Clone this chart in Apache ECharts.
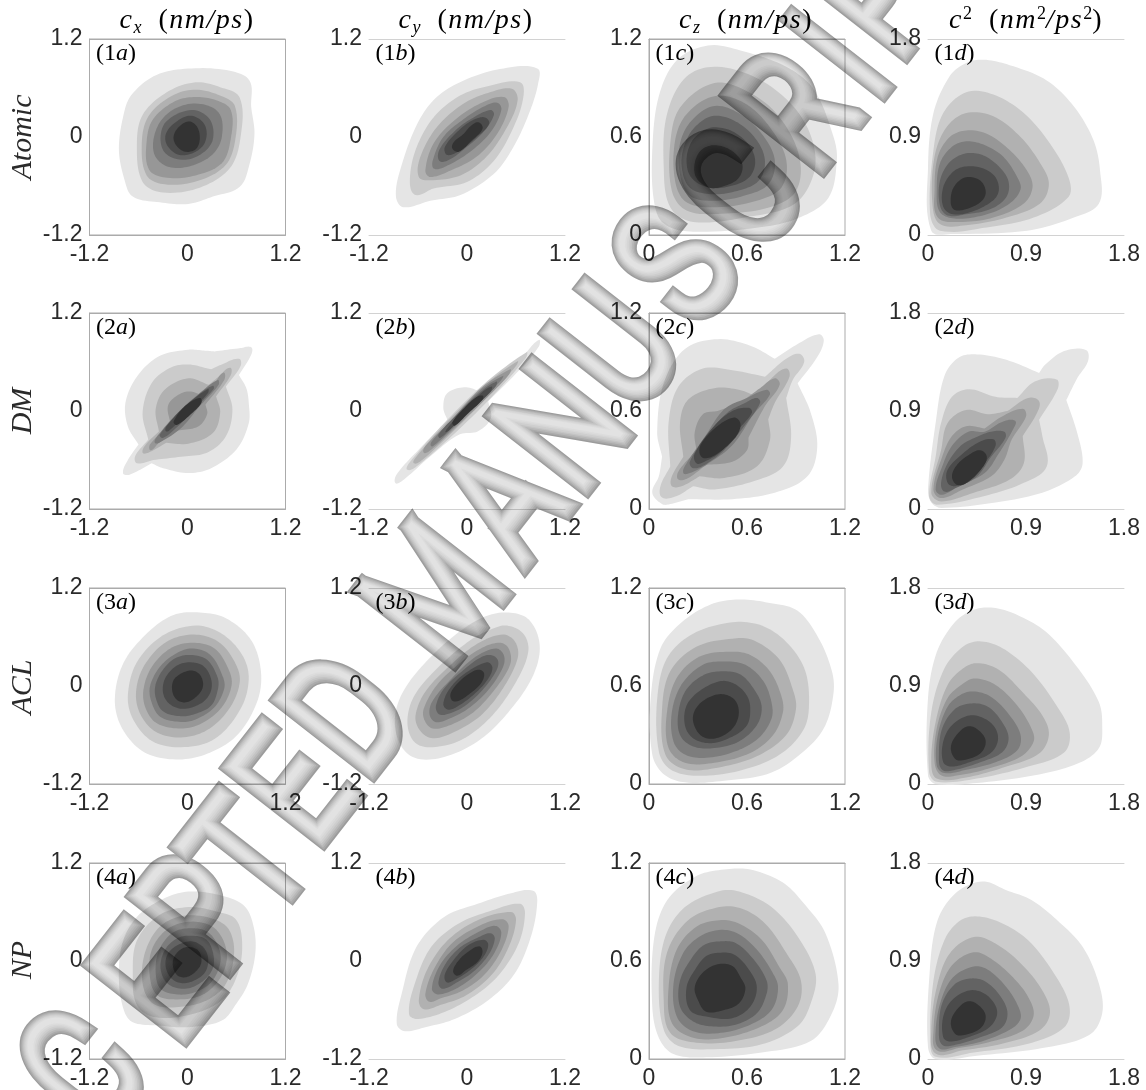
<!DOCTYPE html>
<html><head><meta charset="utf-8">
<style>
html,body{margin:0;padding:0;background:#fff;overflow:hidden}
#chart{width:1146px;height:1090px;background:#fff}
#chart canvas + canvas{mix-blend-mode:multiply}
</style>
<script src="https://cdn.jsdelivr.net/npm/echarts@6/dist/echarts.min.js"></script>
</head><body><div id="chart"></div>
<script>
// Contour polygons: each panel is a list of 8 filled levels, outermost first, as flat x,y,x,y,... values.
// A point written twice is a sharp notch in the contour.
const p1a=[
[.05,.84,.52,.81,.76,.69,.78,.37,.82,.04,.76,-.33,.64,-.61,.31,-.73,.01,-.82,-.34,-.8,-.67,-.73,-.77,-.53,-.84,-.16,-.79,.24,-.69,.51,-.38,.76],
[.1,.67,.4,.61,.64,.48,.65,0,.52,-.38,.15,-.62,-.3,-.68,-.55,-.55,-.62,-.1,-.55,.27,-.25,.55],
[.1,.58,.42,.5,.58,.38,.59,0,.47,-.34,.12,-.54,-.28,-.58,-.5,-.47,-.56,-.08,-.48,.25,-.2,.5],
[.1,.49,.35,.45,.53,.33,.53,-.02,.42,-.32,.1,-.47,-.25,-.5,-.47,-.4,-.5,-.05,-.42,.22,-.15,.44],
[.1,.41,.38,.3,.42,0,.3,-.22,.02,-.36,-.25,-.36,-.41,-.2,-.38,.1,-.2,.32],
[.05,.33,.27,.22,.31,-.03,.18,-.2,-.05,-.28,-.27,-.2,-.33,0,-.25,.2],
[.05,.26,.21,.15,.22,-.05,.1,-.18,-.1,-.22,-.25,-.1,-.26,.05,-.12,.2],
[.02,.19,.12,.12,.15,-.03,.1,-.15,-.03,-.18,-.14,-.1,-.17,.01,-.1,.13]];
const p1b=[
[.86,.84,.87,.65,.76,.29,.57,-.12,.33,-.45,-.08,-.71,-.45,-.78,-.78,-.86,-.87,-.73,-.82,-.41,-.61,.16,-.37,.49,0,.71,.45,.84],
[.65,.67,.69,.49,.57,.12,.33,-.29,0,-.55,-.41,-.63,-.63,-.71,-.7,-.55,-.63,-.16,-.41,.24,-.08,.51,.29,.63],
[.55,.59,.62,.45,.49,.12,.24,-.24,-.08,-.47,-.45,-.53,-.59,-.49,-.57,-.24,-.37,.12,-.04,.41,.29,.55],
[.45,.49,.51,.37,.37,.04,.12,-.24,-.2,-.41,-.45,-.49,-.51,-.41,-.41,-.08,-.16,.2,.16,.41],
[.37,.42,.42,.33,.29,.06,.04,-.18,-.24,-.35,-.4,-.39,-.42,-.29,-.29,0,-.04,.22,.2,.37],
[.29,.33,.33,.27,.2,.06,0,-.12,-.22,-.28,-.34,-.29,-.33,-.14,-.12,.1,.08,.24],
[.22,.24,.27,.16,.12,0,-.08,-.16,-.24,-.22,-.27,-.12,-.08,.1,.08,.21],
[.14,.18,.19,.1,.06,-.04,-.1,-.18,-.18,-.14,-.16,-.06,-.04,.04,.04,.13]];
const p1c=[
[.36,1.16,.56,1.13,.84,1.03,1.01,.89,1.13,.6,1.15,.46,1.1,.23,.93,.11,.7,.05,.27,.02,.09,.07,.03,.21,.02,.52,.06,.85,.17,1.07],
[.42,1.03,.68,.95,.89,.78,1,.58,1.01,.38,.89,.19,.6,.11,.27,.08,.13,.17,.09,.42,.11,.74,.23,.97],
[.4,.93,.62,.87,.8,.72,.92,.48,.9,.27,.74,.17,.44,.13,.23,.15,.14,.27,.13,.56,.19,.78],
[.4,.85,.58,.81,.74,.66,.84,.46,.81,.29,.66,.21,.42,.17,.23,.2,.16,.33,.16,.58,.23,.74],
[.4,.79,.56,.74,.69,.62,.77,.46,.73,.31,.58,.24,.4,.21,.25,.24,.19,.37,.19,.56,.26,.7],
[.4,.73,.54,.69,.66,.58,.71,.45,.67,.33,.54,.27,.38,.25,.25,.29,.2,.42,.22,.56,.29,.67],
[.4,.66,.52,.63,.62,.54,.65,.44,.61,.35,.5,.3,.37,.29,.26,.35,.23,.46,.26,.57,.32,.63],
[.4,.55,.5,.52,.57,.44,.55,.35,.46,.3,.37,.29,.29,.35,.28,.44,.32,.52]];
const p1d=[
[.51,1.61,.75,1.56,1.09,1.42,1.34,1.18,1.52,.87,1.58,.59,1.57,.29,1.34,.16,.91,.04,.23,.01,.03,.04,0,.62,.05,1.12,.2,1.46,.35,1.58],
[.35,1.31,.6,1.29,.88,1.12,1.12,.84,1.29,.53,1.29,.35,.97,.16,.54,.07,.11,.04,.02,.19,.05,.78,.14,1.12],
[.35,1.12,.6,1.09,.85,.9,1.03,.66,1.11,.47,1.03,.29,.72,.16,.35,.09,.11,.1,.04,.29,.06,.72,.17,.99],
[.35,.96,.54,.93,.75,.78,.91,.59,.96,.44,.88,.29,.6,.16,.29,.12,.09,.16,.06,.41,.09,.72,.2,.9],
[.35,.86,.51,.83,.69,.72,.82,.53,.85,.42,.75,.29,.54,.19,.26,.15,.11,.21,.08,.41,.11,.66,.22,.81],
[.35,.75,.51,.73,.66,.62,.74,.49,.72,.35,.58,.24,.35,.19,.18,.18,.11,.27,.11,.5,.2,.67],
[.35,.63,.51,.61,.62,.53,.65,.41,.6,.32,.42,.22,.23,.19,.14,.26,.14,.44,.23,.58],
[.35,.53,.48,.5,.53,.39,.48,.3,.32,.23,.23,.24,.21,.35,.25,.46]];
const p2a=[
[.01,.75,.2,.74,.33,.73,.33,.73,.65,.77,.78,.78,.78,.69,.63,.44,.63,.44,.72,.28,.75,.1,.75,-.15,.6,-.47,.29,-.7,.01,-.76,-.3,-.7,-.44,-.64,-.44,-.64,-.71,-.78,-.79,-.76,-.73,-.6,-.6,-.41,-.6,-.41,-.73,-.19,-.76,.1,-.62,.42,-.35,.67],
[.01,.57,.29,.51,.29,.51,.42,.57,.63,.64,.65,.55,.47,.3,.47,.3,.55,.02,.47,-.31,.24,-.51,-.08,-.56,-.42,-.6,-.42,-.6,-.62,-.64,-.64,-.55,-.48,-.35,-.48,-.35,-.55,-.02,-.44,.34,-.21,.53],
[.01,.4,.26,.32,.26,.32,.38,.42,.52,.53,.53,.44,.35,.18,.35,.18,.4,-.02,.31,-.27,.01,-.4,-.26,-.39,-.26,-.39,-.48,-.51,-.55,-.51,-.51,-.41,-.35,-.25,-.35,-.25,-.39,.02,-.28,.26],
[.01,.24,.17,.2,.17,.2,.33,.34,.44,.47,.45,.38,.22,.08,.22,.08,.24,-.04,.13,-.19,-.12,-.24,-.12,-.24,-.35,-.39,-.45,-.48,-.46,-.41,-.21,-.15,-.21,-.15,-.24,.06,-.14,.18],
[.37,.38,.38,.32,.15,.06,-.08,-.21,-.33,-.38,-.4,-.39,-.37,-.31,-.12,-.02,.15,.22],
[.31,.31,.32,.27,.1,.04,-.12,-.19,-.3,-.33,-.34,-.29,-.08,0,.16,.22],
[.25,.27,.25,.22,.06,.02,-.19,-.21,-.26,-.25,-.26,-.19,-.03,.06],
[.15,.16,.17,.1,.04,-.04,-.13,-.17,-.17,-.13,-.03,.06]];
const p2b=[
[.88,.87,.88,.79,.63,.49,.26,.12,.26,.12,.29,-.09,.13,-.25,-.1,-.29,-.42,-.53,-.8,-.86,-.88,-.88,-.85,-.76,-.55,-.43,-.24,-.11,-.24,-.11,-.29,.04,-.24,.22,-.01,.29,.2,.22,.2,.22,.35,.28,.72,.71],
[.73,.72,.72,.65,.31,.18,-.19,-.31,-.62,-.68,-.73,-.72,-.71,-.64,-.28,-.15,.22,.34],
[.62,.61,.6,.55,.26,.18,-.19,-.27,-.55,-.6,-.65,-.64,-.62,-.56,-.24,-.13,.22,.32],
[.53,.51,.51,.44,.22,.14,-.19,-.25,-.46,-.49,-.53,-.51,-.51,-.43,-.21,-.13,.17,.28],
[.44,.43,.42,.38,.17,.12,-.17,-.21,-.39,-.41,-.44,-.43,-.43,-.37,-.17,-.09,.17,.26],
[.36,.36,.35,.3,.13,.08,-.17,-.19,-.33,-.33,-.35,-.29,-.15,-.07,.15,.22],
[.3,.3,.29,.24,.1,.06,-.17,-.19,-.26,-.26,-.24,-.21,-.05,0,.15,.2],
[.19,.19,.19,.14,.01,-.03,-.15,-.18,-.18,-.14,-.05,.02,.1,.16]];
const p2c=[
[1.04,1.07,1.07,1.03,1.03,.93,.91,.77,.91,.77,.99,.59,1.03,.38,.97,.2,.77,.1,.51,.06,.24,.06,.24,.06,.13,.03,.08,.03,.02,.1,.06,.2,.08,.32,.08,.32,.05,.47,.09,.77,.22,.98,.42,1.04,.62,1,.77,.92,.77,.92,.91,1.01],
[.92,.95,.95,.9,.88,.79,.84,.68,.84,.68,.87,.44,.82,.26,.64,.17,.4,.12,.27,.14,.27,.14,.17,.08,.08,.07,.07,.14,.13,.26,.13,.26,.12,.53,.18,.75,.33,.86,.51,.85,.71,.81,.71,.81,.84,.92],
[.84,.86,.86,.81,.77,.65,.73,.55,.73,.55,.74,.42,.66,.26,.46,.19,.31,.2,.31,.2,.2,.14,.14,.14,.14,.2,.21,.32,.21,.32,.19,.53,.24,.67,.4,.74,.55,.73,.66,.69,.66,.69,.75,.8],
[.77,.8,.8,.76,.71,.63,.61,.44,.61,.44,.6,.36,.51,.29,.35,.27,.35,.27,.24,.19,.18,.18,.18,.23,.29,.36,.29,.36,.28,.47,.33,.58,.42,.6,.42,.6,.55,.65,.68,.74],
[.72,.73,.74,.7,.64,.58,.51,.39,.35,.27,.25,.22,.21,.22,.23,.28,.34,.44,.46,.61,.6,.68],
[.66,.68,.68,.65,.6,.53,.46,.36,.34,.27,.27,.25,.25,.29,.35,.44,.48,.59,.59,.65],
[.61,.62,.63,.59,.55,.49,.44,.35,.34,.29,.29,.28,.28,.34,.4,.51,.51,.6],
[.52,.56,.56,.52,.53,.44,.42,.34,.34,.31,.31,.34,.32,.4,.41,.5]];
const p2d=[
[.45,1.42,.72,1.37,1.02,1.25,1.02,1.25,1.08,1.33,1.25,1.45,1.45,1.46,1.47,1.36,1.37,1.2,1.27,1,1.27,1,1.37,.7,1.42,.42,1.35,.3,1.05,.15,.62,.06,.12,.01,.03,.06,0,.18,.07,.79,.15,1.22,.28,1.39],
[.38,1.1,.62,1.03,.82,1.02,.82,1.02,.98,1.17,1.18,1.19,1.19,1.1,1.02,.82,1.02,.82,1.05,.67,1.09,.39,.88,.24,.52,.12,.08,.04,.01,.12,.07,.48,.12,.79,.22,1.03],
[.35,.91,.55,.87,.73,.9,.73,.9,.92,1.02,1.02,.99,1,.88,.87,.67,.87,.67,.88,.42,.75,.27,.42,.15,.12,.07,.03,.15,.12,.54,.18,.79],
[.35,.76,.52,.74,.52,.74,.68,.85,.87,.92,.9,.85,.77,.64,.7,.45,.58,.3,.32,.18,.12,.1,.05,.18,.13,.48,.22,.67],
[.37,.71,.52,.71,.68,.8,.8,.81,.78,.73,.65,.51,.52,.33,.28,.21,.13,.13,.07,.18,.13,.39,.22,.58],
[.42,.65,.58,.71,.7,.71,.71,.65,.58,.48,.45,.3,.25,.19,.15,.16,.12,.24,.18,.42,.3,.58],
[.48,.62,.6,.64,.62,.58,.52,.42,.38,.27,.25,.21,.18,.24,.18,.36,.32,.51],
[.48,.54,.54,.48,.5,.38,.37,.25,.27,.22,.22,.3,.27,.41,.38,.5]];
const p3a=[
[.15,.9,.47,.83,.78,.56,.9,.17,.85,-.2,.6,-.61,.24,-.83,-.14,-.9,-.53,-.81,-.8,-.52,-.89,-.16,-.78,.29,-.48,.66,-.17,.87],
[.1,.74,.42,.64,.67,.38,.75,.09,.65,-.28,.33,-.65,-.08,-.75,-.44,-.67,-.67,-.4,-.73,-.11,-.62,.29,-.3,.62],
[.08,.63,.38,.54,.58,.29,.64,.05,.51,-.28,.24,-.54,-.08,-.63,-.39,-.56,-.58,-.34,-.63,-.07,-.53,.25,-.26,.54],
[.06,.53,.33,.46,.5,.21,.54,.01,.42,-.26,.17,-.46,-.08,-.52,-.37,-.46,-.51,-.28,-.54,-.05,-.44,.23,-.21,.46],
[.05,.46,.28,.38,.43,.12,.45,-.03,.33,-.26,.1,-.41,-.08,-.44,-.33,-.38,-.44,-.2,-.46,-.01,-.35,.22,-.17,.38],
[.04,.38,.24,.32,.37,.1,.37,-.05,.29,-.24,.1,-.34,-.08,-.37,-.3,-.31,-.39,-.14,-.39,.02,-.3,.2,-.15,.34],
[.04,.29,.2,.24,.29,.08,.28,-.08,.17,-.21,-.05,-.28,-.22,-.22,-.3,-.08,-.27,.1,-.13,.25],
[.03,.19,.15,.14,.19,0,.12,-.12,-.02,-.2,-.14,-.16,-.19,-.03,-.15,.1]];
const p3b=[
[.51,.9,.76,.81,.89,.5,.81,.13,.54,-.28,.17,-.65,-.28,-.87,-.64,-.88,-.83,-.69,-.88,-.36,-.76,-.03,-.46,.34,-.1,.66,.22,.85],
[.49,.74,.69,.64,.75,.42,.6,.05,.31,-.36,-.05,-.65,-.42,-.75,-.64,-.69,-.73,-.44,-.64,-.11,-.33,.25,.04,.56,.31,.7],
[.44,.63,.59,.54,.62,.34,.44,-.03,.17,-.36,-.15,-.56,-.42,-.64,-.58,-.54,-.63,-.36,-.51,-.07,-.21,.25,.13,.52],
[.4,.53,.51,.46,.53,.27,.35,-.03,.08,-.32,-.21,-.48,-.42,-.52,-.52,-.42,-.53,-.28,-.37,.01,-.1,.27,.17,.46],
[.35,.46,.45,.38,.44,.23,.26,-.05,.01,-.28,-.24,-.41,-.39,-.44,-.46,-.34,-.42,-.18,-.21,.07,.08,.34],
[.29,.38,.38,.31,.35,.17,.17,-.07,-.05,-.26,-.26,-.35,-.35,-.34,-.38,-.24,-.28,-.03,-.05,.19,.15,.34],
[.24,.29,.31,.23,.26,.09,.1,-.09,-.1,-.24,-.23,-.29,-.29,-.22,-.21,-.03,-.03,.15],
[.15,.2,.21,.15,.17,.03,.04,-.09,-.1,-.18,-.18,-.18,-.2,-.09,-.1,.05,.04,.16]];
const p3c=[
[.55,1.13,.73,1.11,.91,1.06,1.04,.89,1.12,.69,1.13,.56,1.08,.36,.97,.22,.75,.07,.46,.02,.22,.01,.09,.06,.02,.18,.01,.52,.07,.83,.2,.99,.38,1.1],
[.51,.99,.69,.97,.84,.87,.95,.71,.98,.52,.95,.34,.8,.18,.55,.08,.29,.05,.13,.09,.06,.2,.05,.52,.11,.77,.27,.92],
[.51,.89,.64,.88,.8,.76,.88,.58,.9,.46,.84,.3,.66,.17,.42,.1,.22,.09,.1,.18,.08,.46,.13,.69,.29,.84],
[.49,.81,.62,.79,.74,.69,.81,.54,.82,.44,.76,.3,.62,.19,.4,.13,.22,.13,.12,.22,.11,.44,.17,.65,.31,.78],
[.46,.75,.59,.73,.7,.63,.75,.5,.75,.4,.67,.28,.53,.2,.35,.16,.22,.18,.15,.26,.14,.44,.2,.61,.33,.73],
[.45,.69,.56,.67,.65,.57,.69,.47,.66,.36,.55,.26,.4,.22,.27,.23,.19,.3,.18,.44,.23,.58,.34,.67],
[.44,.63,.53,.61,.6,.54,.62,.46,.6,.36,.51,.29,.38,.25,.27,.28,.22,.36,.23,.48,.31,.57],
[.43,.55,.52,.52,.55,.44,.52,.35,.44,.29,.35,.28,.29,.33,.27,.42,.32,.5]];
const p3d=[
[.58,1.62,.78,1.57,1.08,1.4,1.38,1.06,1.57,.75,1.6,.54,1.57,.33,1.38,.19,.98,.08,.45,.01,.07,0,0,.08,0,.79,.08,1.21,.25,1.49,.42,1.6],
[.47,1.31,.68,1.25,.95,1.03,1.18,.72,1.3,.48,1.25,.29,.92,.16,.45,.05,.08,.02,.01,.11,.03,.66,.15,1.06,.32,1.26],
[.45,1.11,.65,1.05,.88,.83,1.05,.63,1.11,.45,1.02,.28,.72,.16,.35,.06,.08,.05,.03,.2,.07,.57,.18,.91,.32,1.06],
[.43,.97,.62,.91,.82,.72,.95,.51,.97,.39,.85,.25,.55,.14,.28,.08,.12,.08,.06,.2,.08,.51,.18,.79,.32,.92],
[.42,.85,.58,.8,.75,.63,.85,.45,.82,.31,.62,.2,.35,.13,.15,.1,.08,.17,.09,.45,.18,.71,.3,.82],
[.4,.74,.55,.71,.68,.57,.74,.42,.68,.29,.48,.2,.25,.13,.13,.13,.1,.26,.13,.51,.25,.69],
[.38,.63,.52,.6,.62,.51,.64,.39,.57,.28,.38,.2,.22,.16,.14,.2,.14,.39,.22,.54],
[.37,.53,.47,.49,.53,.39,.48,.28,.33,.22,.25,.23,.21,.34,.27,.46]];
const p4a=[
[.01,.85,.38,.81,.69,.68,.81,.42,.83,.09,.74,-.28,.6,-.52,.42,-.73,.01,-.81,-.35,-.79,-.67,-.75,-.78,-.6,-.84,-.24,-.8,.21,-.62,.54,-.3,.76],
[.01,.66,.38,.6,.6,.5,.67,.17,.6,-.2,.42,-.48,.06,-.65,-.39,-.69,-.62,-.54,-.67,-.16,-.62,.25,-.35,.56],
[.01,.56,.33,.51,.51,.38,.57,.09,.47,-.28,.24,-.48,-.08,-.56,-.39,-.54,-.53,-.36,-.55,-.03,-.44,.29,-.26,.48],
[.01,.48,.29,.43,.44,.25,.48,.01,.38,-.24,.17,-.42,-.12,-.47,-.37,-.42,-.46,-.2,-.44,.13,-.26,.38],
[.01,.4,.24,.36,.38,.17,.4,-.03,.29,-.26,.1,-.38,-.12,-.41,-.33,-.34,-.39,-.13,-.35,.13,-.19,.34],
[.01,.31,.22,.27,.31,.11,.31,-.09,.17,-.26,-.03,-.34,-.24,-.28,-.33,-.09,-.28,.13,-.14,.27],
[.01,.24,.17,.19,.25,.05,.22,-.13,.08,-.24,-.08,-.27,-.21,-.2,-.27,-.03,-.21,.13],
[-.01,.17,.13,.13,.17,-.01,.1,-.13,-.03,-.2,-.14,-.16,-.18,-.01,-.12,.11]];
const p4b=[
[.81,.86,.86,.72,.78,.29,.58,-.16,.26,-.48,-.15,-.71,-.51,-.81,-.76,-.86,-.86,-.77,-.8,-.4,-.62,.17,-.28,.54,.13,.7,.54,.83],
[.65,.7,.71,.58,.63,.21,.4,-.16,.13,-.4,-.24,-.61,-.6,-.71,-.71,-.65,-.64,-.28,-.44,.17,-.1,.46,.31,.62],
[.54,.6,.6,.5,.51,.17,.31,-.16,-.01,-.42,-.33,-.54,-.53,-.59,-.59,-.48,-.49,-.11,-.24,.25,.13,.5],
[.44,.51,.51,.42,.42,.13,.22,-.16,-.05,-.36,-.33,-.46,-.46,-.5,-.51,-.4,-.39,-.07,-.17,.23,.17,.44],
[.35,.43,.42,.34,.33,.09,.15,-.13,-.1,-.32,-.35,-.41,-.43,-.34,-.33,-.05,-.12,.19,.15,.36],
[.29,.34,.34,.27,.26,.07,.08,-.13,-.12,-.26,-.3,-.34,-.35,-.26,-.26,-.03,-.08,.17,.14,.29],
[.2,.26,.26,.2,.2,.05,.04,-.11,-.15,-.23,-.25,-.26,-.27,-.16,-.15,.03,.01,.19],
[.15,.18,.19,.11,.13,-.01,-.01,-.11,-.12,-.18,-.17,-.12,-.1,.01,.01,.11]];
const p4c=[
[.46,1.16,.62,1.16,.82,1.08,.95,.95,1.08,.77,1.16,.46,1.12,.28,.99,.11,.69,.04,.35,.01,.15,.03,.06,.13,.02,.32,.03,.73,.11,.97,.29,1.12],
[.44,1.03,.57,1.02,.75,.93,.91,.75,1.02,.52,.99,.34,.91,.2,.69,.09,.4,.06,.18,.08,.09,.18,.06,.46,.1,.75,.22,.93],
[.43,.93,.57,.92,.71,.83,.84,.65,.93,.48,.91,.32,.77,.18,.53,.11,.29,.1,.13,.16,.09,.36,.11,.65,.24,.85],
[.43,.85,.55,.83,.69,.73,.8,.56,.85,.46,.82,.3,.69,.2,.46,.13,.27,.13,.14,.22,.12,.44,.17,.67,.29,.81],
[.43,.79,.54,.77,.66,.67,.75,.54,.79,.44,.75,.3,.62,.21,.44,.16,.27,.17,.17,.26,.15,.46,.21,.65,.31,.75],
[.43,.72,.53,.71,.64,.61,.72,.48,.72,.4,.66,.28,.53,.21,.38,.2,.27,.23,.19,.32,.19,.48,.27,.63,.34,.7],
[.42,.65,.52,.64,.61,.55,.66,.44,.62,.32,.51,.25,.35,.26,.25,.3,.23,.44,.29,.56,.35,.63],
[.42,.58,.51,.57,.56,.5,.59,.43,.55,.34,.46,.3,.35,.29,.3,.36,.28,.44,.33,.53]];
const p4d=[
[.5,1.63,.72,1.55,.95,1.46,1.18,1.28,1.42,1.03,1.57,.69,1.6,.42,1.48,.22,1.05,.1,.45,.03,.07,0,0,.11,.01,.72,.08,1.25,.25,1.52],
[.43,1.31,.65,1.26,.92,1.09,1.18,.75,1.3,.48,1.25,.29,.92,.14,.42,.06,.07,.02,.02,.17,.05,.72,.15,1.09,.28,1.26],
[.42,1.12,.62,1.06,.85,.88,1.05,.63,1.12,.42,1.02,.26,.68,.14,.32,.08,.07,.05,.03,.26,.08,.66,.2,.97],
[.42,.98,.58,.92,.78,.75,.92,.57,.97,.4,.87,.26,.58,.16,.28,.1,.08,.08,.05,.26,.1,.6,.22,.86],
[.42,.85,.55,.82,.72,.66,.83,.48,.85,.37,.77,.28,.52,.17,.25,.11,.1,.1,.07,.26,.12,.54,.23,.75],
[.4,.74,.53,.71,.67,.57,.73,.42,.68,.29,.48,.2,.25,.13,.13,.13,.1,.26,.13,.51,.25,.69],
[.38,.63,.52,.6,.62,.49,.63,.39,.55,.28,.37,.2,.2,.16,.14,.2,.14,.39,.22,.54],
[.37,.53,.47,.49,.53,.39,.48,.28,.33,.22,.25,.23,.21,.34,.27,.46]];

const levelGreys=['#e5e5e5','#cbcbcb','#b1b1b1','#979797','#7d7d7d','#636363','#4b4b4b','#333333'];
const rowNames=['Atomic','DM','ACL','NP'];
const colIds=['a','b','c','d'];
const panelTable=[[p1a,p1b,p1c,p1d],[p2a,p2b,p2c,p2d],[p3a,p3b,p3c,p3d],[p4a,p4b,p4c,p4d]];
const colRange=[[-1.2,1.2,1.2],[-1.2,1.2,1.2],[0,1.2,.6],[0,1.8,.9]];
const colLeft=[89.5,369,649,928];
const rowTop=[39,313,588,863];
const colTitleCentre=[187,466,746,1026];
const rowCentre=[137,411,687,960];
const SIZE=196;

const watermark=[['C',29,1166],['C',93,1077],['E',165,991],['P',210,921],['T',258,865],['E',303,794],['D',356,722],
['M',445,601],['A',513,509],['N',572,435],['U',626,354],['S',686,272],['C',749,196],['R',806,117],['I',850,63],['P',887,6]];
const wmLayers=[['#9c9c9c',23,1,1],['#aaaaaa',20,.8,.8],['#b8b8b8',17,.5,.5],['#c4c4c4',14,.2,.2],['#cecece',11,0,0],['#d6d6d6',8,-.3,-.3],['#dcdcdc',5,-.6,-.6],['#e2e2e2',2,-.9,-.9]];

const tickFont='"Liberation Sans",Arial,sans-serif', mathFont='"Liberation Serif","Times New Roman",serif';
const ink='#2a2a2a';
const grids=[],xAxes=[],yAxes=[],series=[],graphic=[];
const mathRich={
 i:{fontFamily:mathFont,fontStyle:'italic',fontSize:28,color:ink,lineHeight:32,padding:[0,1.5,0,0]},
 r:{fontFamily:mathFont,fontSize:28,color:ink,lineHeight:32,padding:[0,1.5,0,0]},
 g:{fontFamily:mathFont,fontSize:28,color:ink,lineHeight:32,padding:[0,1.5,0,0]},
 sub:{fontFamily:mathFont,fontStyle:'italic',fontSize:18,color:ink,lineHeight:14,verticalAlign:'bottom'},
 sup:{fontFamily:mathFont,fontSize:18,color:ink,lineHeight:14,verticalAlign:'top'},
 n:{fontFamily:mathFont,fontSize:24,color:ink,lineHeight:28},
 l:{fontFamily:mathFont,fontStyle:'italic',fontSize:24,color:ink,lineHeight:28}
};
const ital=s=>s.split('').map(c=>'{i|'+c+'}').join('');
const colTitles=[
 '{i|c}{sub|x}{g| }{g| }{r|(}'+ital('nm/ps')+'{r|)}',
 '{i|c}{sub|y}{g| }{g| }{r|(}'+ital('nm/ps')+'{r|)}',
 '{i|c}{sub|z}{g| }{g| }{r|(}'+ital('nm/ps')+'{r|)}',
 '{i|c}{sup|2}{g| }{g| }{r|(}'+ital('nm')+'{sup|2}{i|/}'+ital('ps')+'{sup|2}{r|)}'
];
// Closed curve through the read points, sampled in pixel space for drawing.
function closedCurve(pts){
  const out=[],n=pts.length;
  const unit=(a,b)=>{const dx=b[0]-a[0],dy=b[1]-a[1],l=Math.hypot(dx,dy)||1;return [dx/l,dy/l];};
  for(let i=0;i<n;i++){
    const p0=pts[(i-1+n)%n],p1=pts[i],p2=pts[(i+1)%n],p3=pts[(i+2)%n];
    const d=Math.hypot(p2[0]-p1[0],p2[1]-p1[1])/3;
    const same=(a,b)=>a[0]===b[0]&&a[1]===b[1];
    const t1=same(p0,p1)?unit(p1,p2):unit(p0,p2),t2=same(p2,p3)?unit(p1,p2):unit(p1,p3);
    const c1=[p1[0]+t1[0]*d,p1[1]+t1[1]*d],c2=[p2[0]-t2[0]*d,p2[1]-t2[1]*d];
    for(let s=0;s<10;s++){
      const u=s/10,v=1-u;
      out.push([v*v*v*p1[0]+3*v*v*u*c1[0]+3*v*u*u*c2[0]+u*u*u*p2[0],v*v*v*p1[1]+3*v*v*u*c1[1]+3*v*u*u*c2[1]+u*u*u*p2[1]]);
    }
  }
  return out;
}
rowTop.forEach((top,r)=>colLeft.forEach((left,c)=>{
  const idx=grids.length, [mn,mx,step]=colRange[c], boxed=c%2===0;
  grids.push({left,top,width:SIZE,height:SIZE,show:boxed,borderColor:'#ababab',borderWidth:1,backgroundColor:'transparent'});
  const lineColor=boxed?'#ababab':'#d2d2d2';
  const common={type:'value',gridIndex:idx,min:mn,max:mx,interval:step,splitLine:{show:false},axisTick:{show:false},scale:false};
  const x0=xAxes.length;
  xAxes.push(Object.assign({},common,{position:'bottom',axisLine:{show:true,onZero:false,lineStyle:{color:lineColor,width:1}},
    axisLabel:{show:true,margin:8,fontFamily:tickFont,fontSize:23,color:ink,showMinLabel:true,showMaxLabel:true}}));
  xAxes.push(Object.assign({},common,{position:'top',axisLine:{show:true,onZero:false,lineStyle:{color:lineColor,width:1}},axisLabel:{show:false}}));
  const y0=yAxes.length;
  yAxes.push(Object.assign({},common,{position:'left',axisLine:{show:boxed,onZero:false,lineStyle:{color:lineColor}},
    axisLabel:{show:true,margin:7,fontFamily:tickFont,fontSize:23,color:ink,showMinLabel:true,showMaxLabel:true}}));
  const levels=panelTable[r][c];
  series.push({type:'custom',xAxisIndex:x0,yAxisIndex:y0,clip:false,silent:true,animation:false,
    data:levels.map((_,i)=>[i]),
    renderItem:(params,api)=>{
      const i=api.value(0), flat=levels[i], pts=[];
      for(let k=0;k<flat.length;k+=2) pts.push(api.coord([flat[k],flat[k+1]]));
      return {type:'polygon',shape:{points:closedCurve(pts)},style:{fill:levelGreys[i],stroke:null}};
    }});
  graphic.push({type:'text',silent:true,z:50,x:left+6.5,y:top+15,style:{
    text:'{n|(}{n|'+(r+1)+'}{l|'+colIds[c]+'}{n|)}',rich:mathRich,textAlign:'left',textVerticalAlign:'middle'}});
}));
colTitleCentre.forEach((x,c)=>graphic.push({type:'text',silent:true,z:50,x,y:21,style:{text:colTitles[c],rich:mathRich,textAlign:'center',textVerticalAlign:'middle'}}));
rowCentre.forEach((y,r)=>graphic.push({type:'text',silent:true,z:50,x:23,y,rotation:Math.PI/2,style:{
  text:rowNames[r],font:'italic 30px '+mathFont,fill:ink,textAlign:'center',textVerticalAlign:'middle'}}));
watermark.forEach(([ch,x,y])=>wmLayers.forEach(([col,lw,dx,dy])=>graphic.push({type:'text',silent:true,zlevel:1,
  x:x+dx,y:y+dy,rotation:52*Math.PI/180,scaleX:.78,
  style:{text:ch,font:'100 158px Roboto',fill:col,stroke:col,lineWidth:lw,lineJoin:'miter',miterLimit:3,textAlign:'center',textVerticalAlign:'middle'}})));

const chart=echarts.init(document.getElementById('chart'),null,{renderer:'canvas',width:1146,height:1090});
chart.setOption({animation:false,backgroundColor:'#fff',tooltip:{show:false},grid:grids,xAxis:xAxes,yAxis:yAxes,series,graphic});
</script></body></html>
